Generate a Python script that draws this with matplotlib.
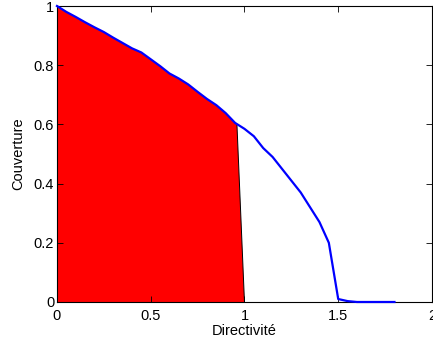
import numpy as np
import matplotlib
matplotlib.use('Agg')
import matplotlib.pyplot as plt

# courbe couverture vs directivite
directivite = [0.0, 0.05, 0.1, 0.15, 0.2, 0.25, 0.3, 0.35, 0.4, 0.45,
               0.5, 0.55, 0.6, 0.65, 0.7, 0.75, 0.8, 0.85, 0.9, 0.95,
               1.0, 1.05, 1.1, 1.15, 1.2, 1.25, 1.3, 1.35, 1.4, 1.45,
               1.5, 1.55, 1.6, 1.65, 1.7, 1.75, 1.8]
couverture = [1.0, 0.98, 0.963, 0.945, 0.928, 0.912, 0.893, 0.875, 0.857, 0.843,
              0.82, 0.797, 0.772, 0.755, 0.735, 0.71, 0.686, 0.665, 0.638, 0.605,
              0.585, 0.56, 0.52, 0.49, 0.45, 0.41, 0.37, 0.32, 0.27, 0.20,
              0.01, 0.003, 0.0, 0.0, 0.0, 0.0, 0.0]

# zone remplie : jusqu'a 0.96 puis retour a (1, 0)
x_fin = 0.96
y_fin = 0.597
x_bas = 1.0

plt.rcParams['font.family'] = ['Liberation Sans', 'DejaVu Sans']
plt.rcParams['font.size'] = 8

fig = plt.figure(figsize=(4.33, 3.47), dpi=100)
ax = fig.add_axes([0.1316, 0.1297, 0.866, 0.853])

d = np.array(directivite)
c = np.array(couverture)
m = d < x_fin
px = np.concatenate([[0], d[m], [x_fin, x_bas]])
py = np.concatenate([[0], c[m], [y_fin, 0]])
ax.fill(px, py, facecolor='red', edgecolor='none')
ax.plot([x_fin, x_bas], [y_fin, 0], color='black', lw=0.7)

ax.plot(d, c, color='blue', lw=1.6, clip_on=False, zorder=3)

ax.set_xlim(0, 2)
ax.set_ylim(0, 1)
ax.set_xticks([0, 0.5, 1, 1.5, 2])
ax.set_xticklabels(['0', '0.5', '1', '1.5', '2'])
ax.set_yticks([0, 0.2, 0.4, 0.6, 0.8, 1])
ax.set_yticklabels(['0', '0.2', '0.4', '0.6', '0.8', '1'])
ax.tick_params(direction='in', top=True, right=True, length=4, width=0.6,
               labelsize=10.5)
ax.tick_params(axis='x', pad=5)
ax.tick_params(axis='y', pad=2)
for s in ax.spines.values():
    s.set_linewidth(0.8)

ax.set_xlabel('Directivité', fontsize=10.5, labelpad=1)
ax.set_ylabel('Couverture', fontsize=10.5, labelpad=6)

fig.savefig('out.png', dpi=100)
